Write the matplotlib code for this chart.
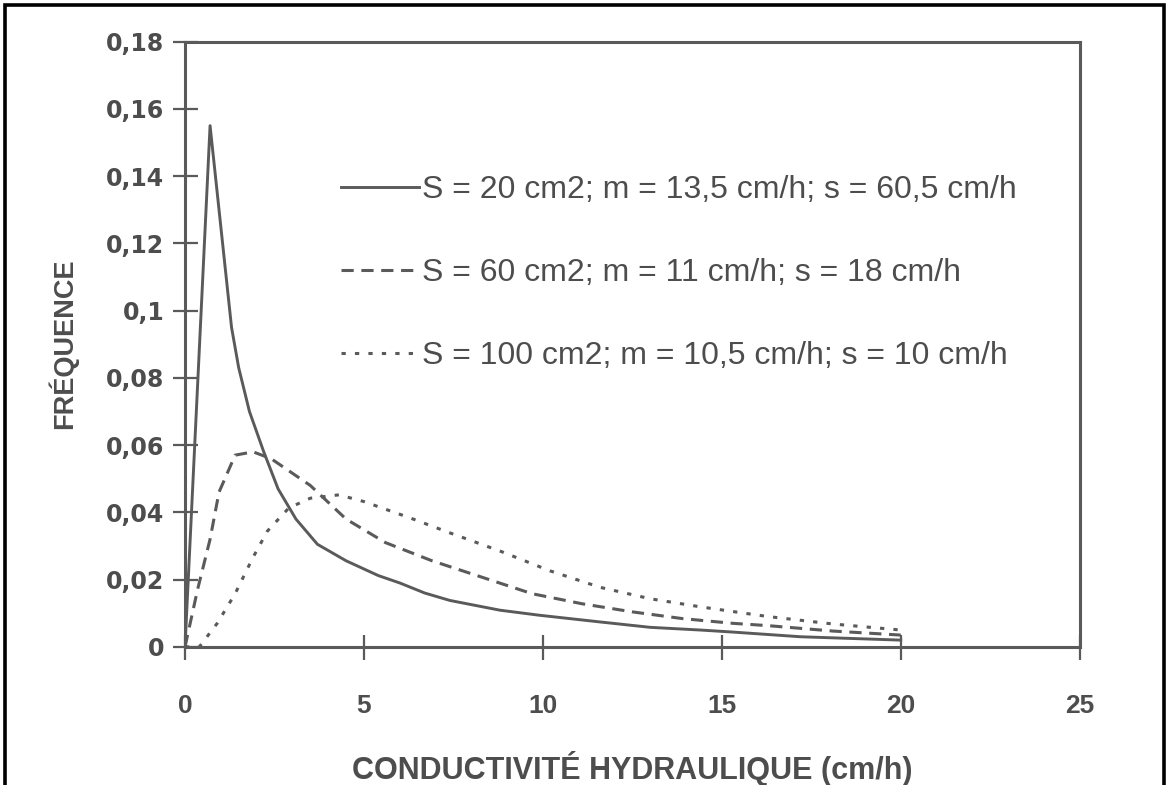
import matplotlib
matplotlib.use("Agg")
import matplotlib.pyplot as plt
from matplotlib.patches import Rectangle

# values
x_s20 = [0, 0.7, 1.3, 1.5, 1.8, 2.2, 2.6, 3.1, 3.7, 4.5, 5.4, 6.0, 6.7, 7.4, 8.8,
         9.9, 11.6, 13.0, 14.4, 15.3, 17.2, 20]
y_s20 = [0, 0.155, 0.095, 0.083, 0.070, 0.058, 0.047, 0.038, 0.0305, 0.0256, 0.0212,
         0.0190, 0.0160, 0.0138, 0.0109, 0.0094, 0.0074, 0.0058, 0.005, 0.0044, 0.003, 0.002]

x_s60 = [0, 0.35, 0.7, 0.95, 1.4, 1.9, 2.4, 3.5, 4.5, 5.6, 6.9, 8.3, 9.7, 11.1,
         12.5, 13.9, 15.3, 16.3, 18.1, 20]
y_s60 = [0, 0.017, 0.032, 0.046, 0.057, 0.058, 0.056, 0.048, 0.038, 0.031, 0.0256,
         0.0207, 0.0158, 0.0128, 0.0104, 0.0084, 0.007, 0.0063, 0.0047, 0.0035]

x_s100 = [0, 0.4, 0.9, 1.4, 1.9, 2.3, 2.9, 3.5, 4.3, 5.0, 6.3, 7.4, 8.8, 10.2,
          11.6, 13.0, 14.4, 15.7, 16.3, 18.1, 20]
y_s100 = [0, 0, 0.007, 0.0158, 0.0266, 0.0344, 0.0413, 0.0442, 0.0452, 0.0432, 0.0383,
          0.0339, 0.0285, 0.0226, 0.0177, 0.0143, 0.0119, 0.0099, 0.009, 0.0068, 0.005]

labels = [
    "S = 20 cm2; m = 13,5 cm/h; s = 60,5 cm/h",
    "S = 60 cm2; m = 11 cm/h; s = 18 cm/h",
    "S = 100 cm2; m = 10,5 cm/h; s = 10 cm/h",
]

x_ticks = [0, 5, 10, 15, 20, 25]
y_ticks = [0, 0.02, 0.04, 0.06, 0.08, 0.1, 0.12, 0.14, 0.16, 0.18]
y_ticklabels = ["0", "0,02", "0,04", "0,06", "0,08", "0,1", "0,12", "0,14", "0,16", "0,18"]

ink = "#5a5a5a"
text_ink = "#4d4d4d"

fig = plt.figure(figsize=(11.71, 7.85), dpi=100)
ax = fig.add_axes([0.158, 0.176, 0.764, 0.771])

ax.plot(x_s20, y_s20, color=ink, lw=2.1, ls="-", label=labels[0])
ax.plot(x_s60, y_s60, color=ink, lw=2.2, ls=(0, (4, 2.5)), label=labels[1])
ax.plot(x_s100, y_s100, color=ink, lw=2.2, ls=(0, (1.4, 3.0)), label=labels[2])

ax.set_xlim(0, 25)
ax.set_ylim(0, 0.18)
ax.set_xticks(x_ticks)
ax.set_yticks(y_ticks)
ax.set_yticklabels(y_ticklabels)

for side in ["left", "right", "top", "bottom"]:
    ax.spines[side].set_color(ink)
    ax.spines[side].set_linewidth(2.2)

ax.tick_params(axis="y", direction="inout", length=18, width=1.6, color=ink,
               pad=6, labelcolor=text_ink)
ax.tick_params(axis="x", direction="inout", length=18, width=1.6, color=ink,
               pad=25, labelcolor=text_ink)
for lab in ax.get_yticklabels():
    lab.set_fontfamily("DejaVu Sans")
    lab.set_fontweight("bold")
    lab.set_fontsize(17)
for lab in ax.get_xticklabels():
    lab.set_fontfamily("Liberation Sans")
    lab.set_fontweight("bold")
    lab.set_fontsize(19)

ax.set_xlabel("CONDUCTIVITÉ HYDRAULIQUE (cm/h)", fontsize=22, fontweight="bold",
              family="Liberation Sans", color=text_ink, labelpad=24)
ax.set_ylabel("FRÉQUENCE", fontsize=19.5, fontweight="bold",
              family="Liberation Sans", color=text_ink, labelpad=20)

leg = ax.legend(loc="upper left", bbox_to_anchor=(0.16, 0.80), frameon=False,
                prop={"family": "Liberation Sans", "size": 23},
                handlelength=2.45, handletextpad=0.1, labelspacing=1.65,
                borderaxespad=0)
for t in leg.get_texts():
    t.set_color(text_ink)

# outer border of the scanned page
fig.patches.append(Rectangle((0.004, -0.05), 0.99, 1.043, transform=fig.transFigure,
                             fill=False, edgecolor="black", lw=2.6))

fig.savefig("out.png", dpi=100)
